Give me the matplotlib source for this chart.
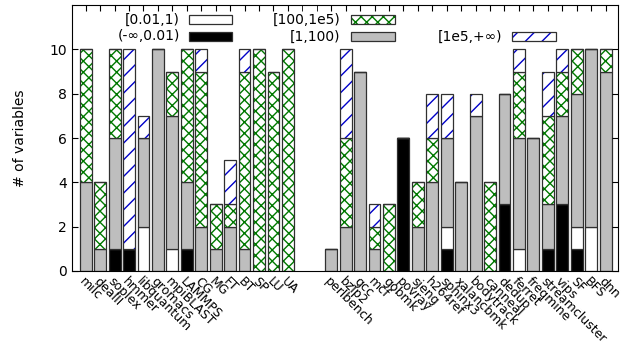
import numpy as np
import matplotlib
matplotlib.use('Agg')
import matplotlib.pyplot as plt
from matplotlib.patches import Rectangle

# benchmarks, two groups separated by a gap
names_a = ['milc', 'dealII', 'soplex', 'hmmer', 'libquantum', 'gromacs', 'mpiBLAST',
           'LAMMPS', 'CG', 'MG', 'FT', 'BT', 'SP', 'LU', 'UA']
names_b = ['perlbench', 'bzip2', 'gcc', 'mcf', 'gobmk', 'povray', 'sjeng', 'h264ref',
           'sphinx3', 'xalancbmk', 'bodytrack', 'canneal', 'dedup', 'ferret', 'freqmine',
           'streamcluster', 'vips', 'SF', 'BFS', 'dnn']

# number of variables per value range
neg_a   = [0, 0, 1, 1, 0, 0, 0, 1, 0, 0, 0, 0, 0, 0, 0]
small_a = [0, 0, 0, 0, 2, 0, 1, 0, 0, 0, 0, 0, 0, 0, 0]
mid_a   = [4, 1, 5, 0, 4, 10, 6, 3, 2, 1, 2, 1, 0, 0, 0]
large_a = [6, 3, 4, 0, 0, 0, 2, 6, 7, 2, 1, 8, 10, 9, 10]
huge_a  = [0, 0, 0, 9, 1, 0, 0, 0, 1, 0, 2, 1, 0, 0, 0]

neg_b   = [0, 0, 0, 0, 0, 6, 0, 0, 1, 0, 0, 0, 3, 0, 0, 1, 3, 1, 0, 0]
small_b = [0, 0, 0, 0, 0, 0, 0, 0, 1, 0, 0, 0, 0, 1, 0, 0, 0, 1, 2, 0]
mid_b   = [1, 2, 9, 1, 0, 0, 2, 4, 4, 4, 7, 0, 5, 5, 6, 2, 4, 6, 8, 9]
large_b = [0, 4, 0, 1, 3, 0, 2, 2, 0, 0, 0, 4, 0, 3, 0, 4, 2, 2, 0, 1]
huge_b  = [0, 4, 0, 1, 0, 0, 0, 2, 2, 0, 1, 0, 0, 1, 0, 2, 1, 0, 0, 0]

range_labels = ['(-\u221e,0.01)', '[0.01,1)', '[1,100)', '[100,1e5)', '[1e5,+\u221e)']

GAP = 2
GREEN = '#007800'
BLUE = '#0000c8'
GRAY = '#bebebe'
EDGE = '#303030'

plt.rcParams['hatch.linewidth'] = 1.0
names = names_a + names_b
pos = np.array(list(range(len(names_a))) +
               list(range(len(names_a) + GAP, len(names_a) + GAP + len(names_b))))
series = [np.array(neg_a + neg_b), np.array(small_a + small_b), np.array(mid_a + mid_b),
          np.array(large_a + large_b), np.array(huge_a + huge_b)]

styles = [dict(color='black'),
          dict(color='white'),
          dict(color=GRAY),
          dict(color='white', hatch='xxx', hatchc=GREEN),
          dict(color='white', hatch='//', hatchc=BLUE)]

fig, ax = plt.subplots(figsize=(6.26, 3.45), dpi=100)
fig.subplots_adjust(left=0.115, right=0.987, bottom=0.2145, top=0.9855)

w = 0.82
bottom = np.zeros(len(names))
for vals, st in zip(series, styles):
    if 'hatch' in st:
        ax.bar(pos, vals, w, bottom=bottom, color=st['color'], edgecolor=st['hatchc'],
               hatch=st['hatch'], linewidth=0)
    else:
        ax.bar(pos, vals, w, bottom=bottom, color=st['color'], linewidth=0)
    ax.bar(pos, vals, w, bottom=bottom, fill=False, edgecolor=EDGE, linewidth=0.9)
    bottom = bottom + vals

# legend drawn by hand, gnuplot style: text then sample box
leg = [(1, 0.198, 0.214, 0.946),   # (style idx, text right, box left, y)
       (0, 0.198, 0.214, 0.882),
       (3, 0.491, 0.511, 0.946),
       (2, 0.491, 0.511, 0.882),
       (4, 0.789, 0.806, 0.882)]
for si, tx, bx, y in leg:
    ax.text(tx, y, range_labels[si], transform=ax.transAxes, ha='right', va='center',
            fontsize=10)
    st = styles[si]
    if 'hatch' in st:
        ax.add_patch(Rectangle((bx, y - 0.017), 0.08, 0.034, transform=ax.transAxes,
                               facecolor='white', edgecolor=st['hatchc'], hatch=st['hatch'],
                               linewidth=0))
    else:
        ax.add_patch(Rectangle((bx, y - 0.017), 0.08, 0.034, transform=ax.transAxes,
                               facecolor=st['color'], linewidth=0))
    ax.add_patch(Rectangle((bx, y - 0.017), 0.08, 0.034, transform=ax.transAxes,
                           fill=False, edgecolor=EDGE, linewidth=0.9))

ax.set_xlim(-0.95, pos[-1] + 0.85)
ax.set_ylim(0, 12)
ax.set_yticks([0, 2, 4, 6, 8, 10])
ax.set_ylabel('# of variables', fontsize=10, labelpad=16)
ax.tick_params(axis='y', direction='in', right=True, length=4, labelsize=10)

ax.set_xticks(pos)
ax.set_xticklabels(names, rotation=-45, ha='left', va='top', rotation_mode='anchor',
                   fontsize=9)
ax.set_xticks(np.arange(0, pos[-1] + 1), minor=True)
ax.tick_params(axis='x', which='both', direction='in', bottom=False, top=True, length=4)
ax.tick_params(axis='x', which='major', pad=3)

plt.savefig('out.png', dpi=100)
